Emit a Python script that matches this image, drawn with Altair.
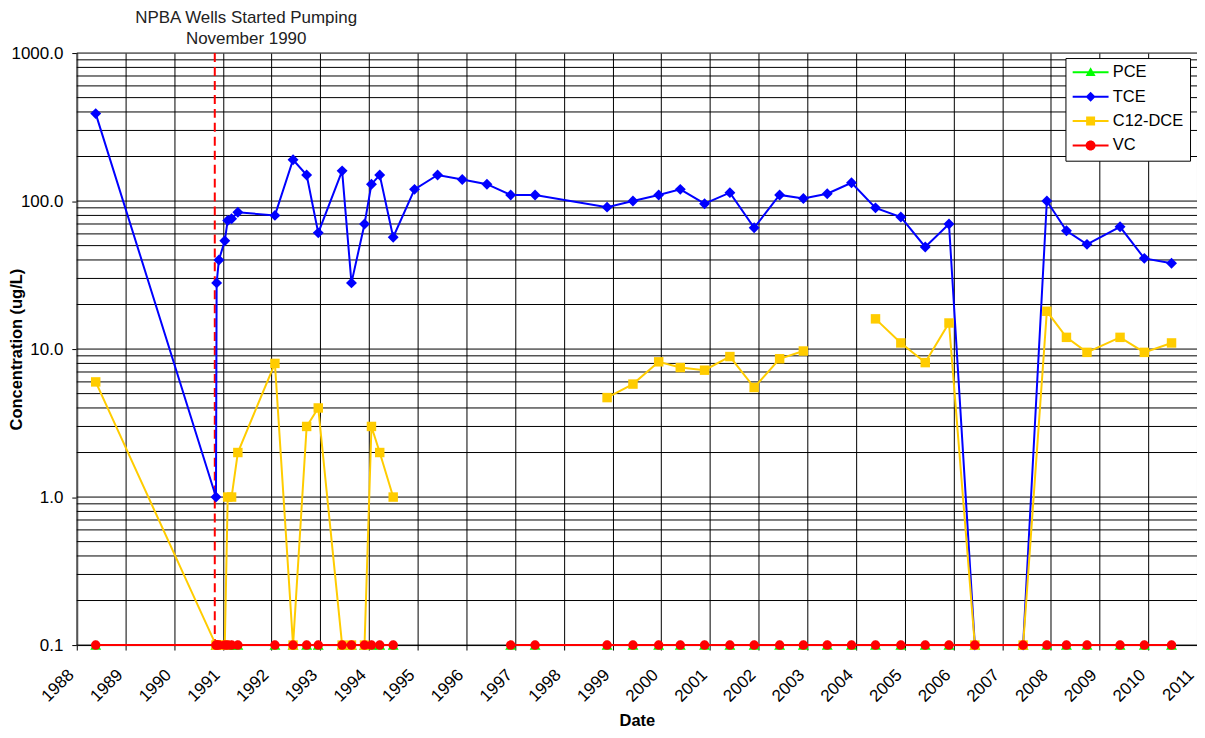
import altair as alt
import pandas as pd

FONT = "Liberation Sans"

# ---------------- data ----------------
dates = ["1988-05-22", "1990-11-10", "1990-11-15", "1990-12-02", "1991-01-15", "1991-02-06",
         "1991-03-07", "1991-04-23", "1992-01-26", "1992-06-10", "1992-09-20", "1992-12-16",
         "1993-06-13", "1993-08-22", "1993-11-28", "1994-01-19", "1994-03-22", "1994-07-01",
         "1994-12-08", "1995-05-30", "1995-12-01", "1996-06-03", "1996-11-28", "1997-05-30",
         "1998-11-21", "1999-06-03", "1999-12-13", "2000-05-23", "2000-11-21", "2001-05-30",
         "2001-11-28", "2002-06-07", "2002-12-02", "2003-05-30", "2003-11-28", "2004-05-26",
         "2004-12-02", "2005-06-03", "2005-11-28", "2006-06-10", "2007-06-07", "2007-12-02",
         "2008-04-27", "2008-09-28", "2009-06-03", "2009-12-02", "2010-06-24"]

tce = [390, 1.0, 28, 40, 54, 74, 76, 84, 80, 190, 150, 61,
       160, 28, 70, 130, 150, 57, 120, 150, 140, 130, 110, 110,
       91, 100, 110, 120, 96, 114, 66, 110, 104, 112, 133, 90,
       78, 49, 70, 0.1, 0.1, 100, 63, 51, 67, 41, 38]

dce = [6.0, 0.1, 0.1, 0.1, 0.1, 1.0, 1.0, 2.0, 8.0, 0.1, 3.0, 4.0,
       0.1, 0.1, 0.1, 3.0, 2.0, 1.0, None, None, None, None, None, None,
       4.7, 5.8, 8.2, 7.5, 7.2, 8.9, 5.5, 8.6, 9.7, None, None, 16,
       11, 8.1, 15, 0.1, 0.1, 18, 12, 9.5, 12, 9.5, 11]

vc = [0.1, 0.1, 0.1, 0.1, 0.1, 0.1, 0.1, 0.1, 0.1, 0.1, 0.1, 0.1,
      0.1, 0.1, 0.1, 0.1, 0.1, 0.1, None, None, None, None, 0.1, 0.1,
      0.1, 0.1, 0.1, 0.1, 0.1, 0.1, 0.1, 0.1, 0.1, 0.1, 0.1, 0.1,
      0.1, 0.1, 0.1, 0.1, 0.1, 0.1, 0.1, 0.1, 0.1, 0.1, 0.1]

pce = [0.1, 0.1, 0.1, 0.1, 0.1, 0.1, 0.1, 0.1, 0.1, 0.1, 0.1, 0.1,
       0.1, 0.1, 0.1, 0.1, 0.1, 0.1, None, None, None, None, 0.1, 0.1,
       0.1, 0.1, 0.1, 0.1, 0.1, 0.1, 0.1, 0.1, 0.1, 0.1, 0.1, 0.1,
       0.1, 0.1, 0.1, 0.1, 0.1, 0.1, 0.1, 0.1, 0.1, 0.1, 0.1]

series_names = ["PCE", "TCE", "C12-DCE", "VC"]
series_colors = ["#00FF00", "#0000FF", "#FFCC00", "#FF0000"]
series_shapes = ["triangle-up", "diamond", "square", "circle"]
series_sizes = [120, 120, 90, 90]

pump_date = "1990-11-01"
annot_lines = ["NPBA Wells Started Pumping", "November 1990"]
year_ticks = [1988, 1989, 1990, 1991, 1992, 1993, 1994, 1995, 1996, 1997, 1998, 1999,
              2000, 2001, 2002, 2003, 2004, 2005, 2006, 2007, 2008, 2009, 2010, 2011]
y_ticks = [0.1, 1, 10, 100, 1000]
y_grid = [0.1, 0.2, 0.3, 0.4, 0.5, 0.6, 0.7, 0.8, 0.9,
          1, 2, 3, 4, 5, 6, 7, 8, 9,
          10, 20, 30, 40, 50, 60, 70, 80, 90,
          100, 200, 300, 400, 500, 600, 700, 800, 900, 1000]

# legend glyphs: marker + short line through it (unit coordinates)
legend_paths = [
    "M0,-1L1,0.75L-1,0.75Z M-3.6,-0.2L3.6,-0.2L3.6,0.2L-3.6,0.2Z",
    "M0,-1L1,0L0,1L-1,0Z M-3.6,-0.2L3.6,-0.2L3.6,0.2L-3.6,0.2Z",
    "M-0.9,-0.9L0.9,-0.9L0.9,0.9L-0.9,0.9Z M-3.6,-0.2L3.6,-0.2L3.6,0.2L-3.6,0.2Z",
    "M-1,0A1,1,0,0,1,1,0A1,1,0,0,1,-1,0Z M-3.6,-0.2L3.6,-0.2L3.6,0.2L-3.6,0.2Z",
]

# ---------------- long table with path segments broken at gaps ----------------
rows = []
for name, vals in zip(series_names, [pce, tce, dce, vc]):
    seg = 0
    gap = True
    for d, v in zip(dates, vals):
        if v is None:
            gap = True
            continue
        if gap:
            seg += 1
            gap = False
        rows.append({"date": d, "series": name, "value": v, "seg": f"{name}-{seg}"})
df = pd.DataFrame(rows)

grid_df = pd.DataFrame({"value": y_grid})
pump_df = pd.DataFrame({"date": [pump_date], "label": ["\n".join(annot_lines)]})

# ---------------- shared encodings ----------------
x_scale = alt.Scale(type="utc",
                    domain=[alt.DateTime(year=year_ticks[0], month=1, date=1, utc=True),
                            alt.DateTime(year=year_ticks[-1], month=1, date=1, utc=True)],
                    nice=False)
x_axis = alt.Axis(values=[alt.DateTime(year=y, month=1, date=1, utc=True) for y in year_ticks],
                  format="%Y", formatType="utc",
                  labelAngle=315, labelAlign="right", labelBaseline="middle",
                  labelPadding=22, labelOffset=-6, labelFlush=False, labelOverlap=False,
                  tickSize=5, tickColor="black", grid=True, gridColor="black", gridWidth=1,
                  domainColor="black", domainWidth=1,
                  labelFont=FONT, labelFontSize=17, labelColor="black",
                  title="Date", titleFont=FONT, titleFontSize=16.5, titleFontWeight="bold",
                  titleColor="black", titleX=562, titleY=81, titleAlign="center",
                  titleBaseline="alphabetic")
x_enc = alt.X("date:T", scale=x_scale, axis=x_axis)

y_scale = alt.Scale(type="log", domain=[0.1, 1000], nice=False)
y_axis = alt.Axis(values=y_ticks, format=".1f", grid=False,
                  tickSize=5, tickColor="black", domainColor="#555555", domainWidth=2,
                  labelPadding=9, labelFlush=False, labelOverlap=False,
                  labelFont=FONT, labelFontSize=17, labelColor="black",
                  title="Concentration (ug/L)", titleFont=FONT, titleFontSize=16.5,
                  titleFontWeight="bold", titleColor="black",
                  titleX=-60, titleY=297, titleAngle=270, titleAlign="center",
                  titleBaseline="middle")
y_enc = alt.Y("value:Q", scale=y_scale, axis=y_axis)

layers = []

# horizontal grid lines
layers.append(alt.Chart(grid_df).mark_rule(color="black", strokeWidth=1).encode(y=y_enc))

# pumping start line
layers.append(alt.Chart(pump_df).mark_rule(color="#FF0000", strokeWidth=2, strokeDash=[9, 5]).encode(x=x_enc))

# series
for name, col, shp, sz in zip(series_names, series_colors, series_shapes, series_sizes):
    base = alt.Chart(df).transform_filter(alt.datum.series == name)
    layers.append(base.mark_line(color=col, strokeWidth=2).encode(x=x_enc, y=y_enc, detail="seg:N"))
    layers.append(base.mark_point(filled=True, opacity=1, shape=shp, size=sz, color=col,
                                  strokeWidth=0).encode(x=x_enc, y=y_enc))

# legend (driven by explicit scale domains, no visible marks)
leg = alt.Legend(orient="none", legendX=992, legendY=5, fillColor="white", strokeColor="black",
                 padding=6, rowPadding=7.5, symbolSize=100, symbolOffset=11, labelOffset=14,
                 symbolStrokeWidth=0, symbolOpacity=1,
                 labelFont=FONT, labelFontSize=16.5, labelColor="black", labelLimit=300)
layers.append(
    alt.Chart(df).transform_filter("false").mark_point(filled=True, opacity=1, size=100).encode(
        x=x_enc, y=y_enc,
        color=alt.Color("series:N", scale=alt.Scale(domain=series_names, range=series_colors),
                        legend=leg, title=None),
        shape=alt.Shape("series:N", scale=alt.Scale(domain=series_names, range=legend_paths),
                        legend=leg, title=None),
    )
)

# annotation
layers.append(
    alt.Chart(pump_df).mark_text(align="center", baseline="alphabetic", lineBreak="\n",
                                 lineHeight=21.6, font=FONT, fontSize=17, color="#222222",
                                 dx=31.5).encode(x=x_enc, y=alt.value(-30.3), text="label:N")
)

chart = alt.layer(*layers).properties(
    width=1124, height=594,
    autosize=alt.AutoSizeParams(type="none"),
    padding={"left": 69, "top": 44, "right": 0, "bottom": 84},
).configure_view(stroke="transparent")

chart.save("out.html", embed_options={"renderer": "svg", "actions": False})
